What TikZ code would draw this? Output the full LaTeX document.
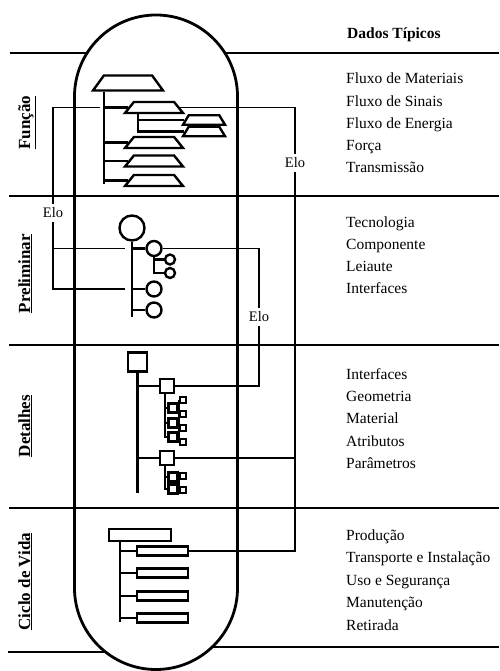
\documentclass[tikz,border=0pt]{standalone}
\usepackage{fontspec}
\setmainfont{Liberation Serif}
\usetikzlibrary{shapes.geometric}

\tikzset{
  sepline/.style={line width=2.6pt},
  treeline/.style={line width=2.4pt},
  eloline/.style={line width=1.2pt},
  trapnode/.style={draw,treeline,trapezium,trapezium stretches body=true,inner sep=0pt,
    minimum width=58pt,trapezium left angle=51,trapezium right angle=51},
  ringnode/.style={draw,treeline,circle,inner sep=0pt,minimum size=#1},
  boxnode/.style={draw,treeline,rectangle,inner sep=0pt,minimum size=#1},
  barnode/.style={draw,treeline,rectangle,inner sep=0pt,minimum width=51pt,minimum height=9pt},
  itemtext/.style={anchor=base west,inner sep=0pt,font=\fontsize{15.5}{18}\selectfont},
  phasetext/.style={anchor=base,rotate=90,inner sep=0pt,font=\fontsize{17}{20}\selectfont\bfseries},
  elotext/.style={fill=white,inner sep=4pt,font=\fontsize{14.5}{17}\selectfont}
}
\newcommand\trapht[1]{\rule{0pt}{#1}}

\begin{document}
\begin{tikzpicture}[x=1pt,y=-1pt]
\useasboundingbox (0,0) rectangle (499,671);

% outer rules, hidden behind the column
\draw[sepline] (10,53) -- (499,53);
\draw[sepline] (8,652) -- (150,652);
\draw[sepline] (150,647) -- (499,647);
\draw[line width=2.8pt,fill=white,rounded corners=81.5pt] (74.5,15) rectangle (237.5,669.5);
\foreach \y in {196,345,508}
  \draw[sepline] (9,\y) -- (499,\y);

% right column
\node[itemtext,font=\fontsize{15.5}{18}\selectfont\bfseries] (head) at (347,39) {Dados Típicos};
\foreach \t [count=\i] in {Fluxo de Materiais,Fluxo de Sinais,Fluxo de Energia,Força,Transmissão}
  \node[itemtext] (fn\i) at (346,{84+22.2*(\i-1)}) {\t};
\foreach \t [count=\i] in {Tecnologia,Componente,Leiaute,Interfaces}
  \node[itemtext] (pn\i) at (346,{227+22.3*(\i-1)}) {\t};
\foreach \t [count=\i] in {Interfaces,Geometria,Material,Atributos,Parâmetros}
  \node[itemtext] (dn\i) at (346,{379+22.4*(\i-1)}) {\t};
\foreach \t [count=\i] in {Produção,Transporte e Instalação,Uso e Segurança,Manutenção,Retirada}
  \node[itemtext] (cn\i) at (346,{540+22.5*(\i-1)}) {\t};

% phases
\node[phasetext] (fun) at (30,122.5) {\underline{Função}};
\node[phasetext] (pre) at (30,273.5) {\underline{Preliminar}};
\node[phasetext] (det) at (30,426) {\underline{Detalhes}};
\node[phasetext] (cic) at (30,581.5) {\underline{Ciclo de Vida}};

% function tree
\node[trapnode,minimum width=70pt,trapezium left angle=54,trapezium right angle=54] (f0) at (128,83) {\trapht{15pt}};
\coordinate (fs) at (104,184);
\foreach \y [count=\i] in {107.5,142.5,161,180.5}
  \node[trapnode] (f\i) at (154,\y) {\trapht{11pt}};
\draw[treeline] (f0.south -| fs) -- (fs);
\foreach \i in {1,...,4}
  \draw[treeline] (f\i.west -| fs) -- (f\i.west);
\foreach \y [count=\i] in {120,131.5}
  \node[trapnode,minimum width=42pt,trapezium left angle=59,trapezium right angle=59] (g\i) at (204,\y) {\trapht{9.5pt}};
\coordinate (gs) at (138,0);
\draw[treeline] (f1.south -| gs) |- (g2.west);
\draw[treeline] (g1.west -| gs) -- (g1.west);

% preliminary tree
\node[ringnode=25pt] (p0) at (132,228) {};
\coordinate (ps) at (132,317);
\foreach \y [count=\i] in {248.5,289,310}
  \node[ringnode=15pt] (p\i) at (154,\y) {};
\draw[treeline] (p0.south) -- (ps);
\foreach \i in {1,2,3}
  \draw[treeline] (p\i.west -| ps) -- (p\i.west);
\foreach \y [count=\i] in {259.5,273}
  \node[ringnode=10pt] (q\i) at (170,\y) {};
\draw[treeline] (p1.south) |- (q2.west);
\draw[treeline] (q1.west -| p1) -- (q1.west);

% detail tree
\node[boxnode=19pt] (d0) at (137.5,362) {};
\coordinate (ds) at (137.5,493);
\foreach \y [count=\i] in {386,458}
  \node[boxnode=14pt] (d\i) at (167,\y) {};
\draw[treeline] (d0.south) -- (ds);
\foreach \i in {1,2}
  \draw[treeline] (d\i.west -| ds) -- (d\i.west);
\foreach \y [count=\i] in {408,423,437,477,489}
  \node[boxnode=9pt] (e\i) at (173,\y) {};
\foreach \y [count=\i] in {400,414,428,442,476,490}
  \node[boxnode=6pt,line width=2pt] (t\i) at (182.5,\y) {};
\coordinate (es) at (165,0);
\draw[treeline] (d1.south -| es) |- (e3.west);
\draw[treeline] (d2.south -| es) |- (e5.west);
\foreach \i in {1,2,4}
  \draw[treeline] (e\i.west -| es) -- (e\i.west);
\draw[treeline] (t1.west -| e1.east) -- (t4.west -| e1.east);
\draw[treeline] (t5.west -| e4.east) -- (t6.west -| e4.east);

% life cycle tree
\node[barnode,minimum width=62pt,minimum height=12pt] (c0) at (140,535) {};
\coordinate (cs) at (120,622);
\foreach \y [count=\i] in {551,573,596,618}
  \node[barnode] (c\i) at (162.5,\y) {};
\draw[treeline] (c0.south -| cs) -- (cs);
\foreach \i in {1,...,4}
  \draw[treeline] (c\i.west -| cs) -- (c\i.west);

% links
\node[elotext] (elo1) at (53,213) {Elo};
\node[elotext] (elo2) at (295,163) {Elo};
\node[elotext] (elo3) at (259,317) {Elo};
\draw[eloline] (f1.west -| 100,0) -| (elo1.north);
\draw[eloline] (elo1.south) |- (p2.west -| 125,0);
\draw[eloline] (elo1.south |- p1) -- (p1.west -| 125,0);
\draw[eloline] (f1.east) -| (elo2.north);
\draw[eloline] (elo2.south) |- (c1.east);
\draw[eloline] (d2.east) -- (d2.east -| elo2);
\draw[eloline] (p1.east) -| (elo3.north);
\draw[eloline] (elo3.south) |- (d1.east);
\end{tikzpicture}
\end{document}
